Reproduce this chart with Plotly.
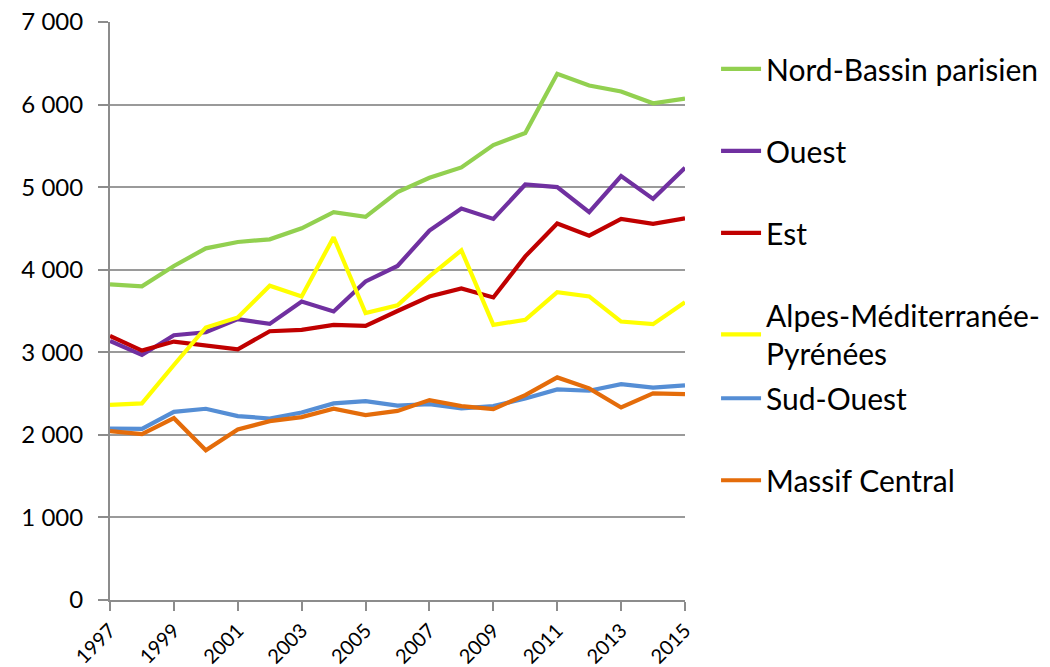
import plotly.graph_objects as go

years = list(range(1997, 2016))

nord_bassin = [3822, 3798, 4045, 4259, 4336, 4368, 4502, 4696, 4640, 4940,
               5113, 5239, 5510, 5656, 6372, 6231, 6158, 6016, 6073]
ouest = [3138, 2968, 3206, 3243, 3401, 3344, 3615, 3494, 3858, 4045,
         4474, 4741, 4615, 5032, 5000, 4696, 5134, 4858, 5235]
est = [3198, 3020, 3130, 3089, 3036, 3255, 3271, 3332, 3320, 3500,
       3676, 3773, 3664, 4162, 4559, 4413, 4615, 4555, 4623]
alpes = [2364, 2381, 2846, 3300, 3421, 3806, 3676, 4393, 3474, 3570,
         3919, 4235, 3332, 3393, 3729, 3676, 3372, 3340, 3607]
sud_ouest = [2077, 2073, 2279, 2316, 2227, 2198, 2271, 2381, 2409, 2355,
             2372, 2320, 2348, 2441, 2551, 2534, 2615, 2571, 2599]
massif = [2045, 2008, 2202, 1814, 2065, 2166, 2215, 2316, 2239, 2290,
          2421, 2348, 2312, 2482, 2696, 2563, 2332, 2502, 2494]

series_names = ["Nord-Bassin parisien", "Ouest", "Est",
                "Alpes-Méditerranée-<br>Pyrénées", "Sud-Ouest", "Massif Central"]
series_values = [nord_bassin, ouest, est, alpes, sud_ouest, massif]
series_colors = ["#92D050", "#7030A0", "#C00000", "#FFFF00", "#558ED5", "#E46C0A"]
series_legend = ["legend", "legend", "legend", "legend", "legend2", "legend2"]

y_tickvals = [0, 1000, 2000, 3000, 4000, 5000, 6000, 7000]
y_ticktext = ["0", "1 000", "2 000", "3 000", "4 000", "5 000", "6 000", "7 000"]
x_tickvals = list(range(1997, 2016, 2))
x_ticktext = [str(v) for v in x_tickvals]

FONT = "Lato"

fig = go.Figure()
for i, (name, vals, col, lg) in enumerate(zip(series_names, series_values, series_colors, series_legend)):
    fig.add_trace(go.Scatter(
        x=years, y=vals, mode="lines", name=name,
        line=dict(color=col, width=4.2),
        legend=lg, legendgroup=f"g{i}",
    ))

legend_common = dict(
    font=dict(family=FONT, size=30, color="#000000"),
    bgcolor="rgba(0,0,0,0)",
    traceorder="grouped",
    tracegroupgap=40,
    xanchor="left", yanchor="top",
    itemwidth=40,
)

fig.update_layout(
    width=1050, height=667,
    margin=dict(l=110, r=365, t=22, b=67, autoexpand=False),
    paper_bgcolor="#FFFFFF", plot_bgcolor="#FFFFFF",
    font=dict(family=FONT, color="#000000"),
    showlegend=True,
    legend=dict(x=1.054, y=0.964, **legend_common),
    legend2=dict(x=1.054, y=0.394, **legend_common),
    xaxis=dict(
        range=[1997, 2015],
        automargin=False,
        tickvals=x_tickvals, ticktext=x_ticktext,
        tickangle=-45,
        tickfont=dict(family=FONT, size=20, color="#000000"),
        ticklabeloverflow="allow",
        showgrid=False, zeroline=False,
        showline=True, linecolor="#8C8C8C", linewidth=2,
        ticks="outside", ticklen=9, tickcolor="#8C8C8C", tickwidth=1.5,
    ),
    yaxis=dict(
        range=[0, 7000],
        automargin=False,
        tickvals=y_tickvals, ticktext=y_ticktext,
        tickfont=dict(family=FONT, size=24, color="#000000"),
        ticklabeloverflow="allow",
        ticklabelstandoff=10,
        showgrid=True, gridcolor="#9A9A9A", gridwidth=2,
        zeroline=False,
        showline=True, linecolor="#8C8C8C", linewidth=2,
        ticks="outside", ticklen=10, tickcolor="#8C8C8C", tickwidth=1.5,
    ),
)

# remove the default 8px page margin so the figure fills the window exactly
fig.write_html("out.html",
               config={"displayModeBar": False},
               post_script="document.body.style.margin='0';document.body.style.overflow='hidden';")
